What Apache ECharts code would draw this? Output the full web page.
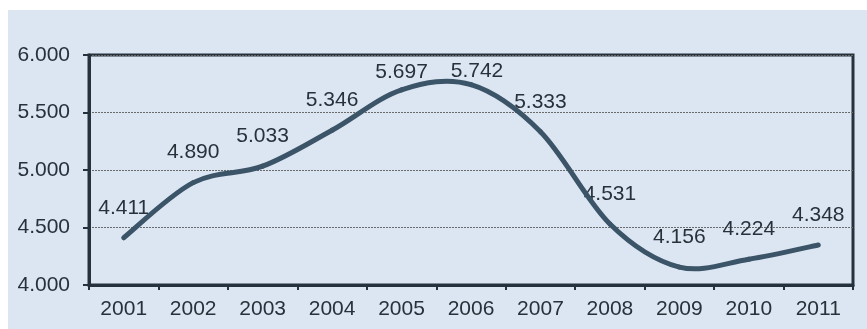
<!DOCTYPE html>
<html>
<head>
<meta charset="utf-8">
<script src="https://cdn.jsdelivr.net/npm/echarts@6/dist/echarts.min.js"></script>
<style>
  html, body { margin: 0; padding: 0; background: #ffffff; }
  #chart { width: 867px; height: 329px; }
</style>
</head>
<body>
<div id="chart"></div>
<script>
// Yearly values, 2001–2011
const years = ['2001', '2002', '2003', '2004', '2005', '2006', '2007', '2008', '2009', '2010', '2011'];
const values = [4.411, 4.890, 5.033, 5.346, 5.697, 5.742, 5.333, 4.531, 4.156, 4.224, 4.348];

// Value axis range and step
const yMin = 4.0;
const yMax = 6.0;
const yStep = 0.5;

const fmt = v => v.toFixed(3);

const textColor = '#27313b';
const axisColor = '#25323e';
const lineColor = '#3b5467';
const fontFamily = '"Liberation Sans", Arial, sans-serif';
const fontSize = 21;
const font = fontSize + 'px ' + fontFamily;

// Value labels float above each point; the two near the peak sit lower
const labelRise = [30, 30, 30, 30, 18, 13, 30, 30, 30, 30, 30];
const labelShift = [0, 0, 0, 0, 0, 6, 0, 0, 0, 0, 0];

// Each item draws the cubic segment to the next point (Catmull-Rom style
// tangents) plus its own value label.
function renderItem(params, api) {
  const i = params.dataIndex;
  const n = values.length;
  const pt = k => api.coord([k, values[k]]);
  const children = [];
  const p1 = pt(i);
  if (i < n - 1) {
    const p0 = pt(Math.max(i - 1, 0));
    const p2 = pt(i + 1);
    const p3 = pt(Math.min(i + 2, n - 1));
    children.push({
      type: 'bezierCurve',
      z2: 10,
      shape: {
        x1: p1[0], y1: p1[1],
        cpx1: p1[0] + (p2[0] - p0[0]) / 6, cpy1: p1[1] + (p2[1] - p0[1]) / 6,
        cpx2: p2[0] - (p3[0] - p1[0]) / 6, cpy2: p2[1] - (p3[1] - p1[1]) / 6,
        x2: p2[0], y2: p2[1]
      },
      style: { stroke: lineColor, lineWidth: 5, fill: null, lineCap: 'round', lineJoin: 'round' }
    });
  }
  children.push({
    type: 'text',
    z2: 1,
    x: p1[0] + labelShift[i],
    y: p1[1] - labelRise[i],
    style: {
      text: fmt(values[i]),
      font: font,
      fill: textColor,
      align: 'center',
      verticalAlign: 'middle'
    }
  });
  return { type: 'group', children: children };
}

const chart = echarts.init(document.getElementById('chart'), null, { renderer: 'canvas' });

chart.setOption({
  backgroundColor: '#ffffff',
  animation: false,
  graphic: [{
    type: 'rect',
    z: -10,
    left: 8,
    top: 10,
    shape: { width: 859, height: 319 },
    style: { fill: '#dce6f2' },
    silent: true
  }],
  grid: {
    left: 89,
    right: 14,
    top: 55,
    bottom: 44,
    show: true,
    borderColor: axisColor,
    borderWidth: 3,
    backgroundColor: 'transparent'
  },
  xAxis: {
    type: 'category',
    data: years,
    boundaryGap: true,
    axisLine: { show: true, lineStyle: { color: axisColor, width: 3 } },
    axisTick: { show: true, length: 5, lineStyle: { color: axisColor, width: 2 } },
    axisLabel: { color: textColor, fontSize: fontSize, fontFamily: fontFamily, margin: 14 },
    splitLine: { show: false }
  },
  yAxis: {
    type: 'value',
    min: yMin,
    max: yMax,
    interval: yStep,
    axisLine: { show: true, lineStyle: { color: axisColor, width: 3 } },
    axisTick: { show: true, length: 6, lineStyle: { color: axisColor, width: 2 } },
    axisLabel: { color: textColor, fontSize: fontSize, fontFamily: fontFamily, margin: 19, formatter: v => fmt(v) },
    splitLine: { show: true, lineStyle: { color: '#6a6a6a', width: 1, type: [2, 1] } }
  },
  series: [{
    type: 'custom',
    renderItem: renderItem,
    clip: false,
    encode: { x: 0, y: 1 },
    data: values.map((v, i) => [i, v])
  }]
});
</script>
</body>
</html>
